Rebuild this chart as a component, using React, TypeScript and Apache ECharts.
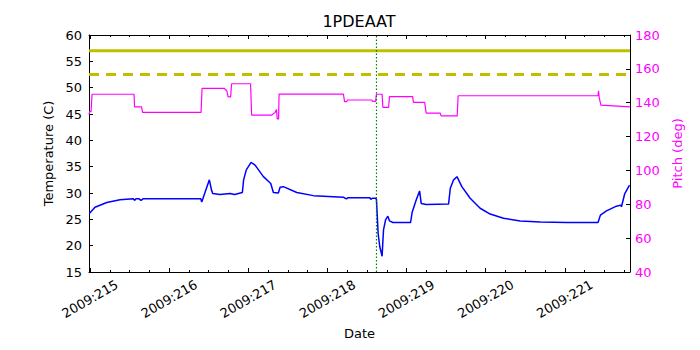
import React, { useEffect, useRef } from "react";
import * as echarts from "echarts";

// ---- Data (day of year 2009) ----
const tempDays = [
  214.991, 215.063, 215.211, 215.379, 215.547, 215.562, 215.581, 215.619, 215.645, 215.67,
  216.399, 216.412, 216.508, 216.536, 216.551, 216.643, 216.77, 216.826, 216.925, 216.941,
  216.975, 217.035, 217.086, 217.191, 217.284, 217.317, 217.38, 217.402, 217.443, 217.613,
  217.823, 218.202, 218.224, 218.242, 218.262, 218.536, 218.549, 218.567, 218.612, 218.62,
  218.641, 218.662, 218.691, 218.709, 218.735, 218.764, 218.785, 218.827, 219.051, 219.072,
  219.123, 219.165, 219.186, 219.249, 219.531, 219.553, 219.595, 219.637, 219.699, 219.804,
  219.93, 220.057, 220.225, 220.436, 220.689, 221.027, 221.42, 221.45, 221.526, 221.653,
  221.704, 221.716, 221.758, 221.818,
];
const tempValues = [
  26.1, 27.3, 28.2, 28.7, 28.9, 28.6, 28.9, 28.9, 28.6, 28.9,
  28.9, 28.3, 32.5, 30.5, 29.9, 29.7, 29.9, 29.7, 30.1, 32.5,
  34.4, 35.8, 35.3, 33.1, 31.8, 30.1, 30.0, 31.1, 31.2, 30.1,
  29.5, 29.2, 29.0, 28.9, 29.1, 29.1, 28.8, 29.0, 29.0, 28.7,
  22.3, 19.8, 18.0, 23.0, 24.9, 25.6, 24.7, 24.4, 24.4, 26.4,
  28.7, 30.4, 28.0, 27.8, 27.9, 30.9, 32.5, 33.1, 31.2, 29.0,
  27.1, 26.0, 25.2, 24.7, 24.5, 24.4, 24.4, 25.8, 26.6, 27.5,
  27.7, 27.4, 29.9, 31.5,
];

const pitchDays = [
  214.987, 214.995, 215.013, 215.025, 215.556, 215.563, 215.651, 215.664, 216.403, 216.416,
  216.694, 216.728, 216.745, 216.777, 216.789, 217.029, 217.042, 217.297, 217.339, 217.357,
  217.366, 217.383, 217.389, 218.202, 218.217, 218.243, 218.255, 218.561, 218.571, 218.609,
  218.619, 218.691, 218.701, 218.774, 218.784, 219.077, 219.087, 219.229, 219.248, 219.425,
  219.437, 219.64, 219.652, 221.42, 221.426, 221.435, 221.456, 221.824,
];
const pitchValues = [
  133.0, 134.7, 134.7, 145.0, 145.0, 137.5, 137.5, 134.3, 134.3, 148.5,
  148.5, 147.1, 143.4, 143.4, 151.2, 151.2, 132.7, 132.7, 134.3, 136.0,
  130.4, 130.4, 145.1, 145.1, 140.6, 140.6, 141.6, 141.6, 140.8, 140.8,
  145.0, 145.0, 137.3, 137.3, 143.6, 143.6, 140.2, 140.2, 133.9, 133.9,
  132.2, 132.2, 144.1, 144.1, 147.1, 143.0, 138.6, 137.6,
];

const dayTicks = [215, 216, 217, 218, 219, 220, 221];
const dayTickLabels = ["2009:215", "2009:216", "2009:217", "2009:218", "2009:219", "2009:220", "2009:221"];
const minorDayTicks = [
  215.25, 215.5, 215.75, 216.25, 216.5, 216.75, 217.25, 217.5, 217.75, 218.25, 218.5, 218.75,
  219.25, 219.5, 219.75, 220.25, 220.5, 220.75, 221.25, 221.5, 221.75,
];
const xMin = 214.987;
const xMax = 221.824;
const limitSolid = 57;
const limitDashed = 52.5;
const markerDay = 218.62;
const tempTicks = { min: 15, max: 60, step: 5 };
const pitchTicks = { min: 40, max: 180, step: 20 };

const FONT = "DejaVu Sans";

export default function App() {
  const ref = useRef<HTMLDivElement>(null);
  useEffect(() => {
    if (!ref.current) return;
    const chart = echarts.init(ref.current, null, { renderer: "svg" });
    const gridPos = { left: 89, right: 70, top: 35, bottom: 78 };
    const labelFor = (v: number) => {
      const i = dayTicks.indexOf(Math.round(v));
      return i >= 0 ? dayTickLabels[i] : "";
    };
    chart.setOption({
      animation: false,
      backgroundColor: "#ffffff",
      textStyle: { fontFamily: FONT },
      title: {
        text: "1PDEAAT",
        left: 359,
        top: 13,
        padding: 0,
        textAlign: "center",
        textStyle: { fontFamily: FONT, fontSize: 16, fontWeight: "normal", color: "#000" },
      },
      grid: [
        { ...gridPos },
        { ...gridPos },
      ],
      xAxis: [
        {
          type: "value",
          gridIndex: 0,
          position: "bottom",
          min: xMin,
          max: xMax,
          name: "Date",
          nameLocation: "middle",
          nameGap: 52,
          nameTextStyle: { fontFamily: FONT, fontSize: 13, color: "#000" },
          axisLine: { show: true, onZero: false, lineStyle: { color: "#000", width: 1 } },
          axisTick: { show: true, inside: true, length: 4, customValues: dayTicks, lineStyle: { color: "#000" } },
          axisLabel: {
            show: true,
            customValues: dayTicks,
            formatter: labelFor,
            rotate: 30,
            align: "center",
            verticalAlign: "middle",
            margin: 27,
            interval: 0,
            fontFamily: FONT,
            fontSize: 13,
            color: "#000",
          },
          splitLine: { show: false },
        },
        {
          type: "value",
          gridIndex: 0,
          position: "top",
          min: xMin,
          max: xMax,
          axisLine: { show: true, onZero: false, lineStyle: { color: "#000", width: 1 } },
          axisTick: { show: true, inside: true, length: 4, customValues: dayTicks, lineStyle: { color: "#000" } },
          axisLabel: { show: false },
          splitLine: { show: false },
        },
        {
          type: "value",
          gridIndex: 1,
          position: "bottom",
          min: xMin,
          max: xMax,
          axisLine: { show: false, onZero: false },
          axisTick: { show: true, inside: true, length: 2, customValues: minorDayTicks, lineStyle: { color: "#000" } },
          axisLabel: { show: false },
          splitLine: { show: false },
        },
        {
          type: "value",
          gridIndex: 1,
          position: "top",
          min: xMin,
          max: xMax,
          axisLine: { show: false, onZero: false },
          axisTick: { show: true, inside: true, length: 2, customValues: minorDayTicks, lineStyle: { color: "#000" } },
          axisLabel: { show: false },
          splitLine: { show: false },
        },
      ],
      yAxis: [
        {
          type: "value",
          gridIndex: 0,
          position: "left",
          min: tempTicks.min,
          max: tempTicks.max,
          interval: tempTicks.step,
          name: "Temperature (C)",
          nameLocation: "middle",
          nameGap: 32,
          nameTextStyle: { fontFamily: FONT, fontSize: 13, color: "#000" },
          axisLine: { show: true, onZero: false, lineStyle: { color: "#000", width: 1 } },
          axisTick: { show: true, inside: true, length: 4, lineStyle: { color: "#000" } },
          axisLabel: { fontFamily: FONT, fontSize: 13, color: "#000", margin: 7 },
          splitLine: { show: false },
        },
        {
          type: "value",
          gridIndex: 0,
          position: "right",
          min: pitchTicks.min,
          max: pitchTicks.max,
          interval: pitchTicks.step,
          name: "Pitch (deg)",
          nameLocation: "middle",
          nameGap: 30,
          nameTextStyle: { fontFamily: FONT, fontSize: 13, color: "#ff00ff" },
          axisLine: { show: true, onZero: false, lineStyle: { color: "#000", width: 1 } },
          axisTick: { show: true, inside: true, length: 4, lineStyle: { color: "#000" } },
          axisLabel: { fontFamily: FONT, fontSize: 13, color: "#ff00ff", margin: 5 },
          splitLine: { show: false },
        },
        {
          type: "value",
          gridIndex: 1,
          show: false,
          min: 0,
          max: 1,
        },
      ],
      series: [
        {
          type: "line",
          xAxisIndex: 0,
          yAxisIndex: 0,
          data: [[xMin, limitSolid], [xMax, limitSolid]],
          showSymbol: false,
          silent: true,
          lineStyle: { color: "#bfbf00", width: 3 },
          z: 2,
        },
        {
          type: "line",
          xAxisIndex: 0,
          yAxisIndex: 0,
          data: [[xMin, limitDashed], [xMax, limitDashed]],
          showSymbol: false,
          silent: true,
          lineStyle: { color: "#bfbf00", width: 3, type: [10, 7] },
          z: 2,
        },
        {
          type: "line",
          xAxisIndex: 0,
          yAxisIndex: 1,
          data: pitchDays.map((d, i) => [d, pitchValues[i]]),
          showSymbol: false,
          silent: true,
          lineStyle: { color: "#ff00ff", width: 1.2 },
          z: 3,
        },
        {
          type: "line",
          xAxisIndex: 0,
          yAxisIndex: 0,
          data: tempDays.map((d, i) => [d, tempValues[i]]),
          showSymbol: false,
          silent: true,
          lineStyle: { color: "#0000ff", width: 1.5 },
          z: 4,
        },
        {
          type: "line",
          xAxisIndex: 0,
          yAxisIndex: 0,
          data: [[markerDay, tempTicks.min], [markerDay, tempTicks.max]],
          showSymbol: false,
          silent: true,
          lineStyle: { color: "#008000", width: 1.2, type: [1.5, 2] },
          z: 5,
        },
      ],
    });
    return () => chart.dispose();
  }, []);
  return (
    <div
      ref={ref}
      style={{ position: "absolute", left: 0, top: 0, width: 700, height: 350 }}
    />
  );
}
